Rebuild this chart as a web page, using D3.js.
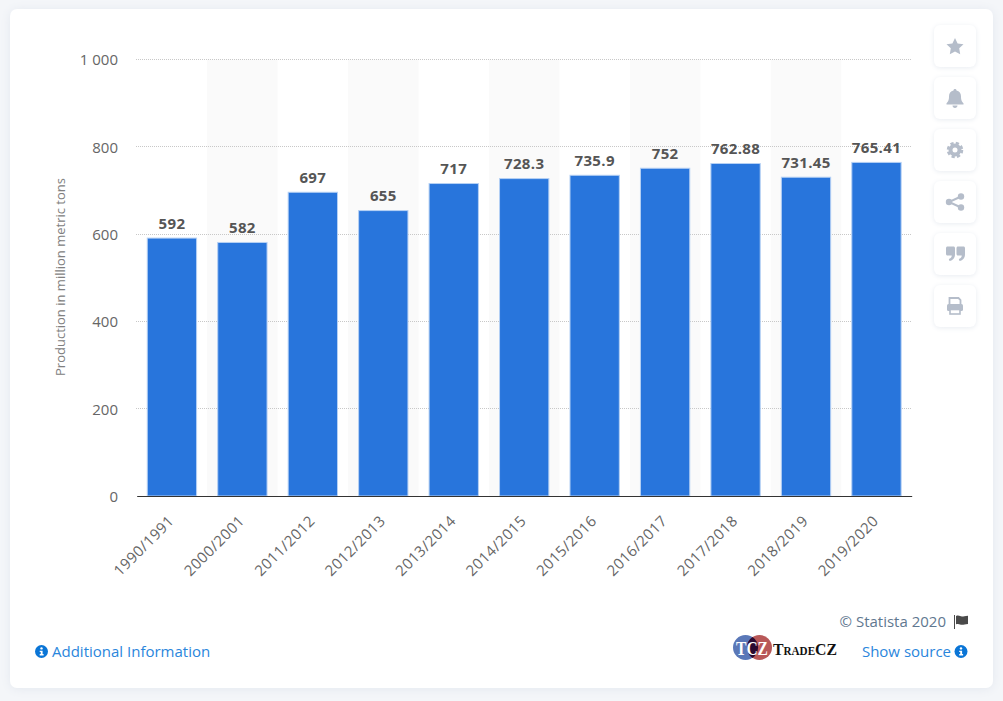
<!DOCTYPE html>
<html>
<head>
<meta charset="utf-8">
<script src="https://cdn.jsdelivr.net/npm/d3@7"></script>
<style>
  html, body { margin: 0; padding: 0; background: #f4f6f9; overflow: hidden; }
  text { font-family: "Open Sans", sans-serif; }
</style>
</head>
<body>
<div id="chart"></div>
<script>
const seasons = ["1990/1991", "2000/2001", "2011/2012", "2012/2013", "2013/2014", "2014/2015", "2015/2016", "2016/2017", "2017/2018", "2018/2019", "2019/2020"];
const production = [592, 582, 697, 655, 717, 728.3, 735.9, 752, 762.88, 731.45, 765.41];
const barLabels = ["592", "582", "697", "655", "717", "728.3", "735.9", "752", "762.88", "731.45", "765.41"];
const yTicks = [0, 200, 400, 600, 800, 1000];

const w = 1003;
const h = 701;
const left = 136;
const right = 911;
const top_ = 59.5;
const bottom = 496;

const svg = d3.select("#chart").append("svg")
  .attr("width", w)
  .attr("height", h)
  .style("display", "block");

const defs = svg.append("defs");
const shadow = defs.append("filter").attr("id", "cardShadow")
  .attr("x", "-5%").attr("y", "-5%").attr("width", "110%").attr("height", "110%");
shadow.append("feDropShadow").attr("dx", 0).attr("dy", 1).attr("stdDeviation", 5)
  .attr("flood-color", "#dfe4ec").attr("flood-opacity", 0.8);
const btnShadow = defs.append("filter").attr("id", "btnShadow")
  .attr("x", "-30%").attr("y", "-30%").attr("width", "160%").attr("height", "160%");
btnShadow.append("feDropShadow").attr("dx", 0).attr("dy", 1).attr("stdDeviation", 2.5)
  .attr("flood-color", "#dfe4ec").attr("flood-opacity", 0.7);

// card
svg.append("rect")
  .attr("x", 10).attr("y", 9)
  .attr("width", 983).attr("height", 679)
  .attr("rx", 7)
  .attr("fill", "#fff")
  .attr("filter", "url(#cardShadow)");

const xScale = d3.scaleBand()
  .domain(seasons)
  .range([left + 0.7, right + 0.7])
  .paddingInner(0.3)
  .paddingOuter(0.15);

const yScale = d3.scaleLinear()
  .domain([0, 1000])
  .range([bottom, top_]);

// alternating column stripes
const step = xScale.step();
svg.append("g").selectAll("rect")
  .data(seasons.filter((d, i) => i % 2 === 1))
  .enter()
  .append("rect")
  .attr("x", d => xScale(d) - step * 0.15)
  .attr("y", top_)
  .attr("width", step)
  .attr("height", bottom - top_)
  .attr("fill", "#fafafa");

// grid
svg.append("g").selectAll("line")
  .data(yTicks.filter(d => d > 0))
  .enter()
  .append("line")
  .attr("x1", left)
  .attr("x2", right)
  .attr("y1", d => Math.floor(yScale(d)) + 0.5)
  .attr("y2", d => Math.floor(yScale(d)) + 0.5)
  .attr("stroke", "#c8c8c8")
  .attr("stroke-dasharray", "1 1");

// bars
svg.append("g").selectAll("rect")
  .data(production)
  .enter()
  .append("rect")
  .attr("x", (d, i) => xScale(seasons[i]))
  .attr("y", d => yScale(d) + 0.5)
  .attr("width", xScale.bandwidth())
  .attr("height", d => bottom - yScale(d) - 0.5)
  .attr("fill", "#2875dc")
  .attr("stroke", "#b5d0f4")
  .attr("stroke-width", 1);

// bar labels
svg.append("g").selectAll("text")
  .data(production)
  .enter()
  .append("text")
  .attr("x", (d, i) => xScale(seasons[i]) + xScale.bandwidth() / 2)
  .attr("y", d => yScale(d) - 9)
  .attr("text-anchor", "middle")
  .attr("font-size", 15)
  .attr("font-weight", 700)
  .attr("letter-spacing", 0.35)
  .attr("fill", "#555")
  .text((d, i) => barLabels[i]);

// axes
const yAxis = d3.axisLeft(yScale)
  .tickValues(yTicks)
  .tickSize(0)
  .tickPadding(0)
  .tickFormat(d => d3.format(",")(d).replace(",", "\u00a0"));

const yG = svg.append("g")
  .attr("transform", "translate(118,0.5)")
  .call(yAxis);
yG.select(".domain").remove();
yG.selectAll("text")
  .attr("font-size", 15)
  .attr("fill", "#666")
  .style("font-family", "'Open Sans', sans-serif");

const xAxis = d3.axisBottom(xScale).tickSize(0).tickPadding(0);
const xG = svg.append("g")
  .attr("transform", "translate(0," + bottom + ")")
  .call(xAxis);
xG.select(".domain").attr("stroke", "#333").attr("stroke-width", 1);
xG.selectAll("text")
  .attr("font-size", 15)
  .attr("letter-spacing", 0.4)
  .attr("fill", "#666")
  .attr("text-anchor", "end")
  .attr("dy", 0)
  .attr("y", 0)
  .attr("transform", "translate(3,26) rotate(-45)")
  .style("font-family", "'Open Sans', sans-serif");

// y axis title
svg.append("text")
  .attr("transform", "translate(65,277) rotate(-90)")
  .attr("text-anchor", "middle")
  .attr("font-size", 13)
  .attr("fill", "#808080")
  .text("Production in million metric tons");

// side buttons
const iconColor = "#b5bdca";
const btnY = [25, 77, 129, 181, 233, 285];
const btns = svg.append("g").selectAll("g")
  .data(btnY)
  .enter()
  .append("g")
  .attr("transform", d => "translate(934," + d + ")");
btns.append("rect")
  .attr("width", 42).attr("height", 42).attr("rx", 6)
  .attr("fill", "#fff")
  .attr("filter", "url(#btnShadow)");

const iconPaths = [
  "M21 13l2.6 5.4 5.9.8-4.3 4.1 1 5.9-5.2-2.8-5.2 2.8 1-5.9-4.3-4.1 5.9-.8z",
  "M21 12c.9 0 1.5.6 1.5 1.4 2.9.6 4.5 3 4.5 5.9 0 4.2 1 5.3 2.5 7v1.2h-17v-1.2c1.5-1.7 2.5-2.8 2.5-7 0-2.9 1.6-5.300 4.500-5.900 0-.8.600-1.400 1.500-1.400zM18.500 28.500h5c0 1.400-1.100 2.500-2.500 2.500s-2.500-1.100-2.500-2.500z",
  null,
  null,
  "M13 13.500h6.500c.8 0 1.500.7 1.500 1.500v6c0 4-2 6.500-5.500 7l-.7-2c1.800-.5 2.900-1.700 3-3.500h-4.300c-.8 0-1.500-.7-1.500-1.500v-6c0-.8.700-1.500 1.500-1.500zM24 13.500h5.500c.8 0 1.500.7 1.500 1.500v6c0 4-2 6.500-5.500 7l-.7-2c1.800-.5 2.900-1.700 3-3.500h-3.800c-.8 0-1.500-.7-1.500-1.500v-6c0-.8.700-1.500 1.500-1.500z",
  null
];
btns.each(function (d, i) {
  const g = d3.select(this);
  if (iconPaths[i]) {
    g.append("path").attr("d", iconPaths[i]).attr("fill", iconColor);
  } else if (i === 2) {
    g.append("circle").attr("cx", 21).attr("cy", 21).attr("r", 4.5)
      .attr("fill", "none").attr("stroke", iconColor).attr("stroke-width", 4);
    g.append("circle").attr("cx", 21).attr("cy", 21).attr("r", 6.5)
      .attr("fill", "none").attr("stroke", iconColor).attr("stroke-width", 3.5)
      .attr("stroke-dasharray", "3 2.1");
  } else if (i === 3) {
    g.append("path").attr("d", "M27 15.500L15 21l12 5.500")
      .attr("fill", "none").attr("stroke", iconColor).attr("stroke-width", 2);
    g.append("circle").attr("cx", 27).attr("cy", 15.5).attr("r", 3.2).attr("fill", iconColor);
    g.append("circle").attr("cx", 15).attr("cy", 21).attr("r", 3.2).attr("fill", iconColor);
    g.append("circle").attr("cx", 27).attr("cy", 26.5).attr("r", 3.2).attr("fill", iconColor);
  } else if (i === 5) {
    g.append("path").attr("d", "M15.500 19v-6h9l2 2v4").attr("fill", "none")
      .attr("stroke", iconColor).attr("stroke-width", 1.8);
    g.append("rect").attr("x", 13).attr("y", 19).attr("width", 16).attr("height", 7).attr("rx", 1.5).attr("fill", iconColor);
    g.append("rect").attr("x", 16).attr("y", 24.5).attr("width", 10).attr("height", 4.5)
      .attr("fill", "#fff").attr("stroke", iconColor).attr("stroke-width", 1.6);
  }
});

// footer
function infoIcon(cx, cy) {
  const g = svg.append("g").attr("transform", "translate(" + cx + "," + cy + ")");
  g.append("circle").attr("r", 6.5).attr("fill", "#0a75d6");
  g.append("circle").attr("cy", -3.1).attr("r", 1.2).attr("fill", "#fff");
  g.append("path").attr("d", "M-1.800-.8h2.900v3.400h1v1.300h-3.900v-1.300h1v-2.100h-1z").attr("fill", "#fff");
}
infoIcon(41.5, 651.5);
svg.append("text")
  .attr("x", 52).attr("y", 656.5)
  .attr("font-size", 15).attr("fill", "#2a86dc")
  .text("Additional Information");

svg.append("text")
  .attr("x", 946).attr("y", 626.5)
  .attr("text-anchor", "end")
  .attr("font-size", 15).attr("fill", "#5f7890")
  .text("© Statista 2020");
svg.append("path")
  .attr("d", "M954 615h1v14h-1zM956 616c3-1.200 4 .5 6 .5 1.500 0 3-.5 6-.8v8.300c-3 .3-4 .8-6 .8-2 0-3-1.500-6-.5z")
  .attr("fill", "#4a4a4a");

svg.append("text")
  .attr("x", 951).attr("y", 656.5)
  .attr("text-anchor", "end")
  .attr("font-size", 15).attr("fill", "#2a86dc")
  .text("Show source");
infoIcon(961, 651.5);

// watermark logo
const logo = svg.append("g");
logo.append("circle").attr("cx", 745.5).attr("cy", 647.5).attr("r", 12.5).attr("fill", "#5a78b8");
logo.append("circle").attr("cx", 759.5).attr("cy", 647.5).attr("r", 12.5).attr("fill", "#b85858");
logo.append("path").attr("d", "M752.500 637.100a12.500 12.500 0 0 1 0 20.800a12.500 12.500 0 0 1 0-20.800z").attr("fill", "#2a0a30");
logo.append("text").attr("x", 736).attr("y", 654.5)
  .attr("font-size", 19).attr("font-weight", 700).attr("fill", "#fff")
  .attr("textLength", 32).attr("lengthAdjust", "spacingAndGlyphs")
  .style("font-family", "'Liberation Serif', serif").text("TCZ");
logo.append("text").attr("x", 773).attr("y", 654.5).attr("font-size", 17).attr("font-weight", 700)
  .attr("fill", "#111").style("font-family", "'Liberation Serif', serif")
  .style("font-variant", "small-caps")
  .attr("textLength", 64).attr("lengthAdjust", "spacingAndGlyphs").text("TradeCZ");
</script>
</body>
</html>
